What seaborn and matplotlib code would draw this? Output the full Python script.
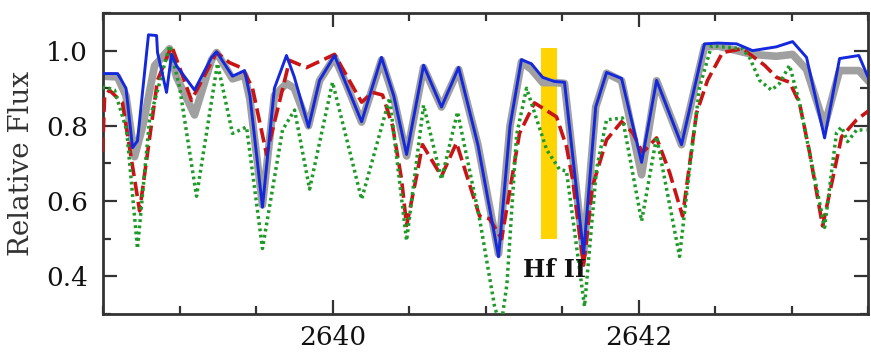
import numpy as np
import pandas as pd
import matplotlib
matplotlib.use("Agg")
import matplotlib.pyplot as plt
import seaborn as sns
from matplotlib.ticker import MultipleLocator

# ---------------- data ----------------
obs_wave = [2638.497, 2638.595, 2638.650, 2638.706, 2638.760, 2638.837, 2638.935, 2638.980,
            2639.098, 2639.209, 2639.242, 2639.346, 2639.425, 2639.460, 2639.542, 2639.620,
            2639.699, 2639.750, 2639.843, 2639.915, 2640.013, 2640.080, 2640.190, 2640.320,
            2640.400, 2640.484, 2640.595, 2640.712, 2640.824, 2640.950, 2641.085, 2641.160,
            2641.235, 2641.300, 2641.373, 2641.450, 2641.516, 2641.641, 2641.720, 2641.791,
            2641.889, 2642.020, 2642.118, 2642.281, 2642.431, 2642.520, 2642.641, 2642.745,
            2642.900, 2643.007, 2643.098, 2643.216, 2643.314, 2643.440, 2643.510]
obs_flux = [0.932, 0.930, 0.880, 0.718, 0.800, 0.960, 1.005, 0.930,
            0.829, 0.975, 0.995, 0.925, 0.935, 0.870, 0.590, 0.880,
            0.913, 0.900, 0.800, 0.920, 0.982, 0.920, 0.810, 0.975,
            0.875, 0.720, 0.955, 0.850, 0.950, 0.750, 0.460, 0.800,
            0.970, 0.950, 0.915, 0.915, 0.913, 0.460, 0.850, 0.940,
            0.920, 0.670, 0.920, 0.750, 1.010, 1.012, 1.000, 0.990,
            0.985, 0.990, 0.950, 0.800, 0.947, 0.947, 0.916]

blue_wave = [2638.497, 2638.595, 2638.650, 2638.693, 2638.725, 2638.797, 2638.850, 2638.856,
             2638.915, 2638.948, 2638.980, 2639.098, 2639.209, 2639.242, 2639.346, 2639.425,
             2639.460, 2639.542, 2639.620, 2639.699, 2639.750, 2639.843, 2639.915, 2640.013,
             2640.080, 2640.190, 2640.320, 2640.400, 2640.484, 2640.595, 2640.712, 2640.824,
             2640.950, 2641.085, 2641.160, 2641.235, 2641.300, 2641.373, 2641.450, 2641.516,
             2641.641, 2641.720, 2641.791, 2641.889, 2642.020, 2642.118, 2642.281, 2642.431,
             2642.520, 2642.641, 2642.745, 2642.900, 2643.007, 2643.098, 2643.216, 2643.314,
             2643.440, 2643.510]
blue_flux = [0.939, 0.939, 0.900, 0.742, 0.760, 1.042, 1.040, 0.995,
             0.889, 0.990, 0.960, 0.895, 0.982, 0.997, 0.932, 0.947,
             0.880, 0.584, 0.900, 0.987, 0.930, 0.797, 0.921, 0.987,
             0.920, 0.811, 0.982, 0.880, 0.724, 0.961, 0.850, 0.955,
             0.750, 0.452, 0.800, 0.976, 0.965, 0.929, 0.918, 0.916,
             0.461, 0.850, 0.942, 0.926, 0.703, 0.921, 0.750, 1.018,
             1.020, 1.018, 1.000, 1.010, 1.024, 0.982, 0.768, 0.979,
             0.987, 0.920]

red_wave = [2638.497, 2638.510, 2638.542, 2638.627, 2638.739, 2638.856, 2638.948, 2639.078,
            2639.242, 2639.327, 2639.412, 2639.477, 2639.569, 2639.719, 2639.830, 2640.013,
            2640.190, 2640.261, 2640.327, 2640.392, 2640.451, 2640.484, 2640.549, 2640.588,
            2640.712, 2640.810, 2640.961, 2641.026, 2641.105, 2641.222, 2641.320, 2641.464,
            2641.529, 2641.569, 2641.641, 2641.699, 2641.791, 2641.889, 2641.961, 2642.026,
            2642.118, 2642.203, 2642.288, 2642.379, 2642.451, 2642.549, 2642.680, 2642.824,
            2642.902, 2642.987, 2643.052, 2643.118, 2643.203, 2643.268, 2643.327, 2643.425,
            2643.510]
red_flux = [0.730, 0.876, 0.895, 0.861, 0.574, 0.921, 1.013, 0.868,
            0.995, 0.968, 0.953, 0.900, 0.724, 0.974, 0.955, 0.990,
            0.863, 0.889, 0.882, 0.800, 0.658, 0.535, 0.666, 0.750,
            0.666, 0.755, 0.560, 0.553, 0.500, 0.780, 0.861, 0.824,
            0.745, 0.658, 0.430, 0.639, 0.763, 0.811, 0.782, 0.729,
            0.768, 0.676, 0.560, 0.834, 0.921, 0.995, 1.005, 0.961,
            0.929, 0.916, 0.861, 0.729, 0.534, 0.658, 0.771, 0.816,
            0.842]

green_wave = [2638.497, 2638.510, 2638.575, 2638.654, 2638.725, 2638.804, 2638.935, 2639.000,
              2639.111, 2639.248, 2639.346, 2639.438, 2639.542, 2639.673, 2639.752, 2639.850,
              2640.000, 2640.190, 2640.373, 2640.484, 2640.595, 2640.712, 2640.817, 2640.961,
              2641.059, 2641.100, 2641.140, 2641.203, 2641.268, 2641.399, 2641.484, 2641.529,
              2641.647, 2641.725, 2641.791, 2641.895, 2642.020, 2642.118, 2642.268, 2642.333,
              2642.399, 2642.477, 2642.595, 2642.680, 2642.725, 2642.791, 2642.869, 2642.922,
              2642.987, 2643.052, 2643.216, 2643.294, 2643.327, 2643.366, 2643.425, 2643.490]
green_flux = [0.900, 0.903, 0.895, 0.789, 0.474, 0.816, 1.013, 0.903,
              0.613, 0.966, 0.780, 0.797, 0.474, 0.789, 0.842, 0.632,
              0.916, 0.605, 0.874, 0.495, 0.855, 0.658, 0.837, 0.553,
              0.320, 0.265, 0.380, 0.776, 0.900, 0.737, 0.684, 0.680,
              0.320, 0.684, 0.816, 0.821, 0.547, 0.771, 0.453, 0.684,
              0.903, 1.013, 1.008, 1.005, 0.982, 0.921, 0.895, 0.913,
              0.961, 0.861, 0.530, 0.782, 0.797, 0.758, 0.789, 0.789]

hf_band_wave = [2641.365, 2641.465]
hf_band_flux = [0.500, 1.006]
hf_label = "Hf II"
hf_label_pos = [2641.451, 0.416]

x_limits = [2638.5, 2643.5]
y_limits = [0.3, 1.1]
x_major = [2640, 2642]
y_major = [0.4, 0.6, 0.8, 1.0]

# ---------------- plotting ----------------
sns.set_theme(style="ticks")
plt.rcParams["font.family"] = ["DejaVu Serif", "DejaVu Sans"]

fig = plt.figure(figsize=(8.71, 3.56), dpi=100)
ax = fig.add_axes([0.1183, 0.118, 0.8783, 0.8455])

ax.fill_between(hf_band_wave, [hf_band_flux[0]] * 2, [hf_band_flux[1]] * 2,
                color="#FFD400", lw=0, zorder=1)

common = dict(ax=ax, sort=False, estimator=None,
              solid_joinstyle="round", solid_capstyle="round", dash_joinstyle="round")
sns.lineplot(x=obs_wave, y=obs_flux, color="#a0a0a0", lw=5.5, zorder=2, **common)
sns.lineplot(x=red_wave, y=red_flux, color="#c81414", lw=2.6, zorder=3,
             linestyle=(0, (4, 1.6)), **common)
sns.lineplot(x=green_wave, y=green_flux, color="#1e9a28", lw=2.5, zorder=4,
             linestyle=(0, (0.8, 1.0)), **common)
sns.lineplot(x=blue_wave, y=blue_flux, color="#1428dc", lw=2.1, zorder=5, **common)

ax.text(hf_label_pos[0], hf_label_pos[1], hf_label, ha="center", va="center",
        fontsize=17, fontweight="bold", color="#111111", zorder=6)

ax.set_xlim(*x_limits)
ax.set_ylim(*y_limits)
ax.set_xticks(x_major)
ax.set_yticks(y_major)
ax.xaxis.set_minor_locator(MultipleLocator(0.5))
ax.yaxis.set_minor_locator(MultipleLocator(0.1))
ax.set_xticklabels([f"{v:d}" for v in x_major])
ax.set_yticklabels([f"{v:.1f}" for v in y_major])

ax.tick_params(which="both", direction="in", top=True, right=True, colors="#333333",
               labelcolor="#111111", width=1.6)
ax.tick_params(which="major", length=10, labelsize=19, pad=8)
ax.tick_params(which="minor", length=6)
ax.tick_params(axis="y", which="major", pad=11)

for s in ax.spines.values():
    s.set_linewidth(2.0)
    s.set_color("#333333")
    s.set_visible(True)

ax.set_xlabel("")
ax.set_ylabel("Relative Flux", fontsize=20, color="#333333", labelpad=8)

fig.savefig("out.png", dpi=100)
